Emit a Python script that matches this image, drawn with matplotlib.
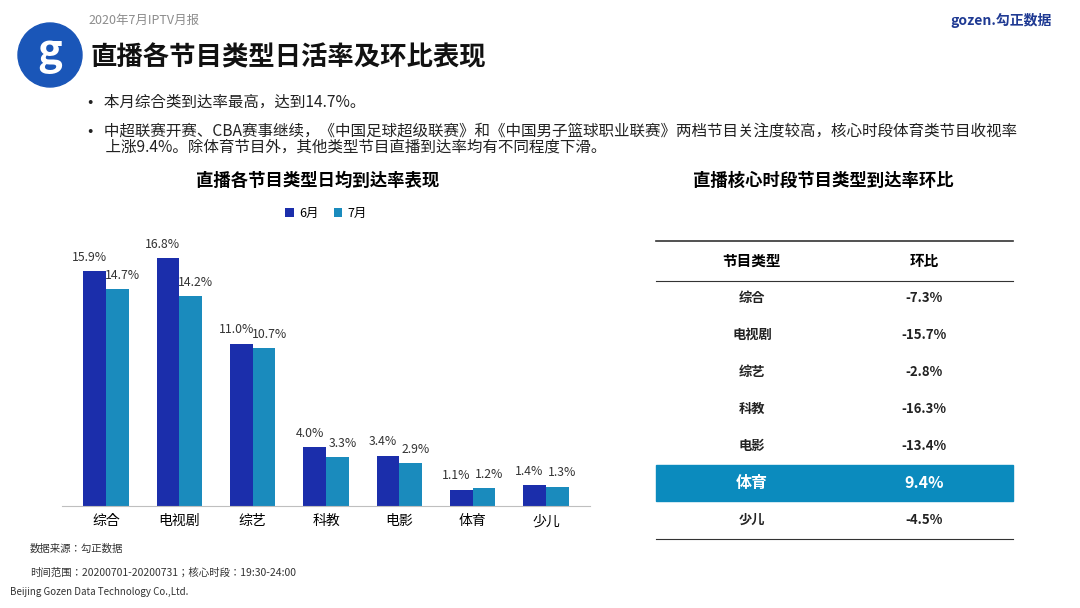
import matplotlib
matplotlib.use("Agg")
import matplotlib.pyplot as plt
from matplotlib import font_manager
from matplotlib.patches import Ellipse, Rectangle

cjk = sorted({f.name for f in font_manager.fontManager.ttflist if "CJK" in f.name})
pref = [n for n in cjk if "Sans" in n and "SC" in n] or [n for n in cjk if "Sans" in n] or cjk
plt.rcParams["font.family"] = (pref[:1] if pref else []) + ["DejaVu Sans"]

categories = ["综合", "电视剧", "综艺", "科教", "电影", "体育", "少儿"]
june = [15.9, 16.8, 11.0, 4.0, 3.4, 1.1, 1.4]
july = [14.7, 14.2, 10.7, 3.3, 2.9, 1.2, 1.3]
table_types = ["综合", "电视剧", "综艺", "科教", "电影", "体育", "少儿"]
table_change = ["-7.3%", "-15.7%", "-2.8%", "-16.3%", "-13.4%", "9.4%", "-4.5%"]
highlight = "体育"

W, H = 1080, 608
C6 = "#1b2eab"
C7 = "#1a8bbd"

fig = plt.figure(figsize=(W / 100, H / 100), dpi=100)


def fx(x):
    return x / W


def fy(y):
    return 1 - y / H


# header
fig.text(fx(88), fy(20), "2020年7月IPTV月报", fontsize=9, color="#8c8c8c", va="center")
fig.text(fx(950), fy(20), "gozen.勾正数据", fontsize=10, color="#1f3a93", va="center",
         fontweight="bold")
fig.patches.append(Ellipse((fx(50), fy(55)), fx(64), 64 / H, transform=fig.transFigure,
                           color="#1a56b8", zorder=1))
fig.text(fx(50), fy(53), "g", fontsize=30, color="white", ha="center", va="center",
         fontweight="bold")
fig.text(fx(90), fy(58), "直播各节目类型日活率及环比表现", fontsize=19, fontweight="bold",
         va="center", color="#111111")

bullets = [
    (102, "•   本月综合类到达率最高，达到14.7%。"),
    (131, "•   中超联赛开赛、CBA赛事继续，《中国足球超级联赛》和《中国男子篮球职业联赛》两档节目关注度较高，核心时段体育类节目收视率"),
    (147, "     上涨9.4%。除体育节目外，其他类型节目直播到达率均有不同程度下滑。"),
]
for y, t in bullets:
    fig.text(fx(88), fy(y), t, fontsize=11.2, va="center", color="#222222")

# bar chart
ax = fig.add_axes([fx(62), fy(506), fx(590 - 62), (506 - 230) / H])
x = list(range(len(categories)))
w = 0.31
b1 = ax.bar([i - w / 2 for i in x], june, w, color=C6, label="6月")
b2 = ax.bar([i + w / 2 for i in x], july, w, color=C7, label="7月")
for bars, vals, dx in ((b1, june, -0.07), (b2, july, 0.07)):
    for r, v in zip(bars, vals):
        ax.text(r.get_x() + r.get_width() / 2 + dx, v + 0.5, f"{v:.1f}%", ha="center",
                va="bottom", fontsize=8.8, color="#333333")
ax.set_ylim(0, 18.7)
ax.set_xlim(-0.6, len(categories) - 0.4)
ax.set_xticks(x)
ax.set_xticklabels(categories, fontsize=10)
ax.tick_params(axis="x", length=0, pad=6)
ax.set_yticks([])
for s in ("top", "right", "left"):
    ax.spines[s].set_visible(False)
ax.spines["bottom"].set_color("#bfbfbf")
ax.legend(loc="center", bbox_to_anchor=(0.5, 1.06), ncol=2, frameon=False,
          fontsize=9, handlelength=0.7, handleheight=0.7, columnspacing=1.2,
          handletextpad=0.4)
fig.text(fx(318), fy(181), "直播各节目类型日均到达率表现", fontsize=12.5, fontweight="bold",
         ha="center", va="center")

fig.text(fx(30), fy(549), "数据来源：勾正数据", fontsize=7.5, color="#333333", va="center")
fig.text(fx(30), fy(573), "时间范围：20200701-20200731；核心时段：19:30-24:00", fontsize=7.5,
         color="#333333", va="center")
fig.text(fx(10), fy(592), "Beijing Gozen Data Technology Co.,Ltd.", fontsize=7,
         color="#333333", va="center")

# table
fig.text(fx(823), fy(181), "直播核心时段节目类型到达率环比", fontsize=12.5, fontweight="bold",
         ha="center", va="center")
tx0, tx1 = 656, 1013
c1, c2 = 752, 924
tab = fig.add_axes([0, 0, 1, 1], facecolor="none")
tab.set_xlim(0, W)
tab.set_ylim(H, 0)
tab.axis("off")
tab.plot([tx0, tx1], [241, 241], color="#333333", lw=1.2)
tab.plot([tx0, tx1], [281, 281], color="#333333", lw=0.8)
tab.plot([tx0, tx1], [539, 539], color="#333333", lw=0.8)
tab.text(c1, 261, "节目类型", ha="center", va="center", fontsize=10.5, fontweight="bold")
tab.text(c2, 261, "环比", ha="center", va="center", fontsize=10.5, fontweight="bold")
for i, (t, v) in enumerate(zip(table_types, table_change)):
    y = 298 + i * 37
    col, fs = "#222222", 9.5
    if t == highlight:
        tab.add_patch(Rectangle((tx0, y - 18), tx1 - tx0, 36, color="#0b8bbe"))
        col, fs = "white", 11.5
    tab.text(c1, y, t, ha="center", va="center", fontsize=fs, fontweight="bold", color=col)
    tab.text(c2, y, v, ha="center", va="center", fontsize=fs, fontweight="bold", color=col)

fig.savefig("out.png", dpi=100)
